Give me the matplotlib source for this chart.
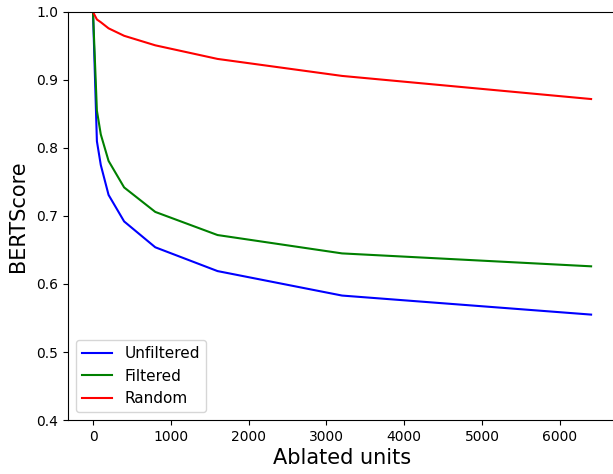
import matplotlib
matplotlib.use("Agg")
import matplotlib.pyplot as plt

units = [0, 50, 100, 200, 400, 800, 1600, 3200, 6400]
unfiltered = [1.0, 0.810, 0.775, 0.731, 0.692, 0.654, 0.619, 0.583, 0.555]
filtered = [1.0, 0.855, 0.820, 0.781, 0.742, 0.706, 0.672, 0.645, 0.626]
random_ = [1.0, 0.989, 0.985, 0.976, 0.965, 0.951, 0.931, 0.906, 0.872]

fig = plt.figure(figsize=(6.13, 4.74), dpi=100)
ax = fig.add_axes([68.1/613, 1 - 420/474, (616-68.1)/613, (420-12)/474])
ax.plot(units, unfiltered, color="blue", label="Unfiltered")
ax.plot(units, filtered, color="green", label="Filtered")
ax.plot(units, random_, color="red", label="Random")
ax.set_ylim(0.4, 1.0)
ax.set_xlabel("Ablated units", fontsize=15, labelpad=3)
ax.set_ylabel("BERTScore", fontsize=15, labelpad=6)
ax.legend(loc="lower left", fontsize=11)
fig.savefig("out.png", dpi=100)
